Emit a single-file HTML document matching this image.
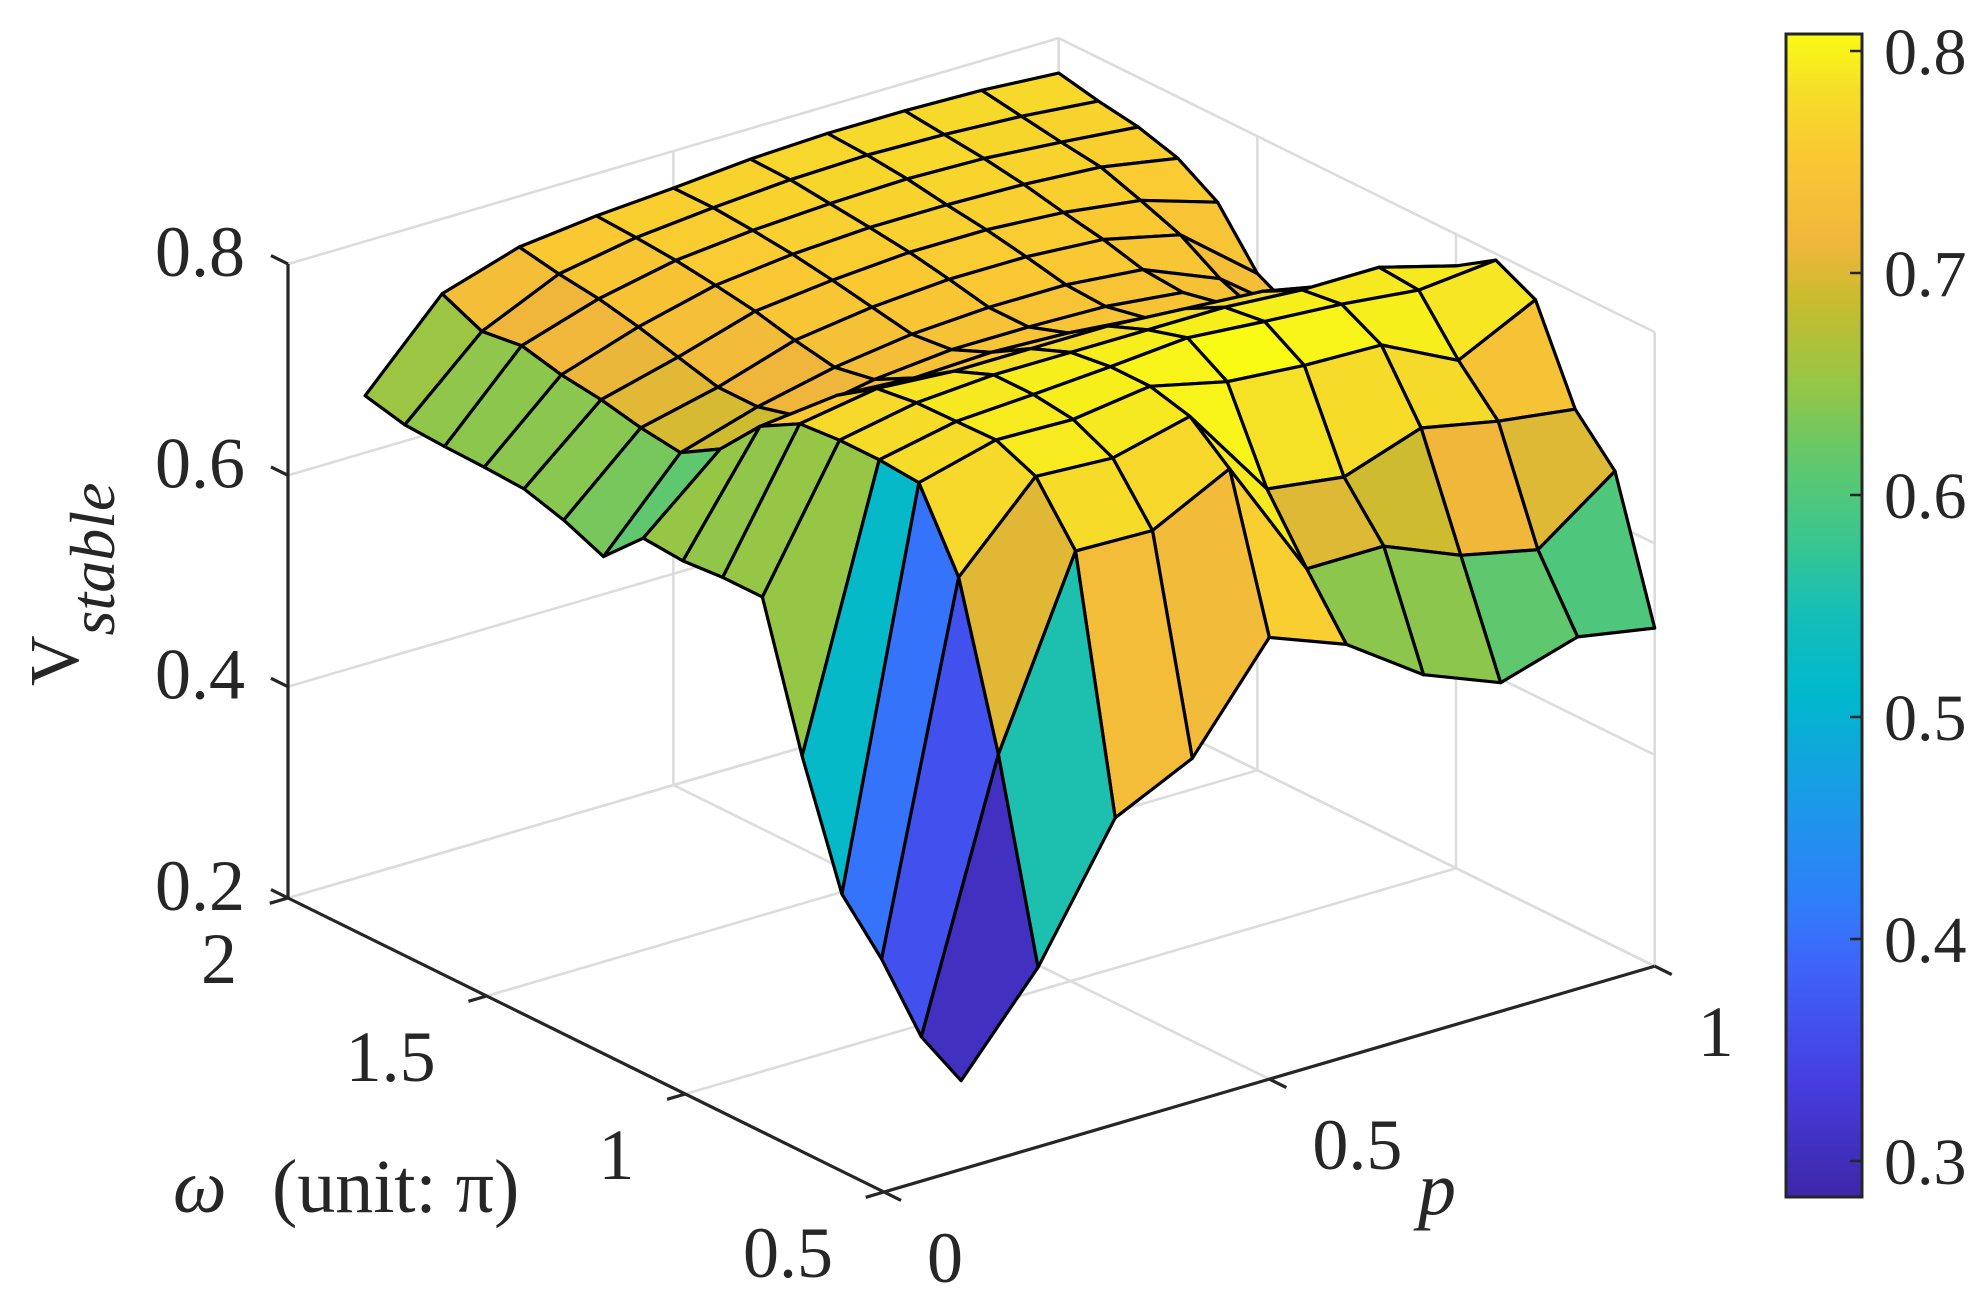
<!DOCTYPE html>
<html><head><meta charset="utf-8"><style>
html,body{margin:0;padding:0;background:#fff}
svg, svg text{font-family:"Liberation Serif","DejaVu Serif",serif}
</style></head><body>
<svg id="chart" width="1988" height="1306" viewBox="0 0 1988 1306" xmlns="http://www.w3.org/2000/svg" font-family="Liberation Serif, DejaVu Serif, serif">
<rect width="1988" height="1306" fill="#fff"/>
<g id="grid"></g>
<g id="axes"></g>
<g id="surface"></g>
<g id="labels"></g>
<g id="colorbar"></g>
<text transform="translate(78,686) rotate(-90)" font-family="Liberation Serif, serif" font-size="70" fill="#262626">V<tspan font-style="italic" font-size="64" dy="36">stable</tspan></text>
<text x="173" y="1212" font-family="Liberation Serif, serif" font-size="76" fill="#262626"><tspan font-style="italic">ω</tspan><tspan x="272">(unit: π)</tspan></text>
<text x="1418" y="1214" font-family="Liberation Serif, serif" font-size="76" font-style="italic" fill="#262626">p</text>
</svg>
<script>
const pValues=[0.1,0.2,0.3,0.4,0.5,0.6,0.7,0.8,0.9,1.0];
const omegaValues=[0.5,0.6,0.7,0.8,0.9,1.0,1.1,1.2,1.3,1.4,1.5,1.6,1.7,1.8,1.9,2.0];
const vStable=[
[0.284,0.370,0.490,0.525,0.618,0.590,0.540,0.511,0.533,0.520],
[0.307,0.553,0.724,0.722,0.759,0.643,0.643,0.613,0.597,0.650],
[0.362,0.702,0.776,0.772,0.790,0.700,0.690,0.715,0.700,0.690],
[0.405,0.773,0.792,0.790,0.800,0.783,0.777,0.775,0.739,0.775],
[0.517,0.776,0.791,0.795,0.800,0.806,0.800,0.795,0.787,0.794],
[0.649,0.776,0.790,0.795,0.795,0.795,0.795,0.790,0.790,0.770],
[0.649,0.773,0.785,0.780,0.780,0.780,0.775,0.770,0.755,0.724],
[0.646,0.752,0.760,0.755,0.758,0.755,0.748,0.740,0.715,0.650],
[0.649,0.712,0.722,0.735,0.742,0.742,0.740,0.732,0.690,0.625],
[0.613,0.690,0.712,0.728,0.738,0.742,0.742,0.735,0.705,0.650],
[0.629,0.695,0.712,0.735,0.745,0.750,0.750,0.745,0.728,0.670],
[0.640,0.703,0.722,0.744,0.752,0.757,0.757,0.752,0.742,0.719],
[0.642,0.708,0.732,0.750,0.758,0.762,0.762,0.760,0.755,0.742],
[0.643,0.717,0.740,0.755,0.762,0.766,0.768,0.766,0.760,0.753],
[0.645,0.712,0.745,0.758,0.765,0.770,0.772,0.770,0.766,0.759],
[0.654,0.729,0.752,0.760,0.765,0.771,0.774,0.774,0.772,0.767]
];
const zTicks=[0.2,0.4,0.6,0.8];
const zTickLabels=['0.2','0.4','0.6','0.8'];
const omegaTicks=[0.5,1,1.5,2];
const omegaTickLabels=['0.5','1','1.5','2'];
const pTicks=[0,0.5,1];
const pTickLabels=['0','0.5','1'];
const cbTicks=[0.3,0.4,0.5,0.6,0.7,0.8];
const cbTickLabels=['0.3','0.4','0.5','0.6','0.7','0.8'];

const NS='http://www.w3.org/2000/svg';
const F={x:884,y:1192}, dP={x:770.7,y:-225.8}, dW={x:-596,y:-294}, zPx=1056.7;
function proj(p,w,z){const a=p,b=(w-0.5)/1.5;return [F.x+a*dP.x+b*dW.x, F.y+a*dP.y+b*dW.y-(z-0.2)*zPx];}
function depth(p,w,z){const b=(w-0.5)/1.5,zn=(z-0.2)/0.6;return 0.924*(591*p+770*b)-0.383*686*zn;}
const stops=[[0,62,38,168],[0.1,70,62,225],[0.2,62,100,250],[0.25,48,125,250],[0.33,30,150,235],[0.43,0,184,205],[0.5,20,190,185],[0.56,55,198,145],[0.63,95,200,110],[0.7,150,198,70],[0.77,200,188,45],[0.82,240,182,60],[0.9,250,202,50],[0.95,245,222,40],[1,249,251,20]];
function cmap(t){t=Math.max(0,Math.min(1,t));for(let k=1;k<stops.length;k++){if(t<=stops[k][0]){const a=stops[k-1],b=stops[k],f=(t-a[0])/(b[0]-a[0]);return 'rgb('+[1,2,3].map(c=>Math.round(a[c]+f*(b[c]-a[c]))).join(',')+')';}}return 'rgb(249,251,20)';}
let vmin=Infinity,vmax=-Infinity;vStable.forEach(r=>r.forEach(v=>{vmin=Math.min(vmin,v);vmax=Math.max(vmax,v);}));
function line(g,a,b,stroke,w,name){const l=document.createElementNS(NS,'line');l.setAttribute('x1',a[0]);l.setAttribute('y1',a[1]);l.setAttribute('x2',b[0]);l.setAttribute('y2',b[1]);l.setAttribute('stroke',stroke);l.setAttribute('stroke-width',w);


g.appendChild(l);}
function text(g,x,y,s,anchor,size,name){const t=document.createElementNS(NS,'text');t.setAttribute('x',x);t.setAttribute('y',y);t.setAttribute('text-anchor',anchor);t.setAttribute('font-size',size);t.setAttribute('font-family','Liberation Serif, serif');t.setAttribute('fill','#262626');t.textContent=s;


g.appendChild(t);}
const grid=document.getElementById('grid'),axes=document.getElementById('axes'),surf=document.getElementById('surface'),labels=document.getElementById('labels'),cb=document.getElementById('colorbar');
const GC='#dcdcdc',GW=2.6;
pTicks.forEach(p=>line(grid,proj(p,0.5,0.2),proj(p,2,0.2),GC,GW,'floor-gridline-p'));
omegaTicks.forEach(w=>line(grid,proj(0,w,0.2),proj(1,w,0.2),GC,GW,'floor-gridline-omega'));
pTicks.forEach(p=>line(grid,proj(p,2,0.2),proj(p,2,0.8),GC,GW,'back-wall-gridline'));
zTicks.forEach(z=>line(grid,proj(0,2,z),proj(1,2,z),GC,GW,'back-wall-gridline-z'));
omegaTicks.forEach(w=>line(grid,proj(1,w,0.2),proj(1,w,0.8),GC,GW,'side-wall-gridline'));
zTicks.forEach(z=>line(grid,proj(1,0.5,z),proj(1,2,z),GC,GW,'side-wall-gridline-z'));
const AC='#262626',AW=3.2;
line(axes,proj(0,2,0.2),proj(0,2,0.8),AC,AW,'z-axis');
line(axes,proj(0,0.5,0.2),proj(0,2,0.2),AC,AW,'omega-axis');
line(axes,proj(0,0.5,0.2),proj(1,0.5,0.2),AC,AW,'p-axis');
const tl=19;
const uW=[dW.x/Math.hypot(dW.x,dW.y),dW.y/Math.hypot(dW.x,dW.y)], uP=[dP.x/Math.hypot(dP.x,dP.y),dP.y/Math.hypot(dP.x,dP.y)];
zTicks.forEach((z,i)=>{const a=proj(0,2,z);line(axes,a,[a[0]+uW[0]*tl,a[1]+uW[1]*tl],AC,AW,'z-tick');text(labels,245,a[1]+12,zTickLabels[i],'end',72,'z-tick-label');});
omegaTicks.forEach((w,i)=>{const a=proj(0,w,0.2);line(axes,a,[a[0]-uP[0]*tl,a[1]-uP[1]*tl],AC,AW,'omega-tick');text(labels,a[0]-51,a[1]+85,omegaTickLabels[i],'end',72,'omega-tick-label');});
pTicks.forEach((p,i)=>{const a=proj(p,0.5,0.2);line(axes,a,[a[0]-uW[0]*tl,a[1]-uW[1]*tl],AC,AW,'p-tick');text(labels,a[0]+43,a[1]+90,pTickLabels[i],'start',72,'p-tick-label');});
const faces=[];
for(let j=0;j<omegaValues.length-1;j++){for(let i=0;i<pValues.length-1;i++){
 const c=[[i,j],[i+1,j],[i+1,j+1],[i,j+1]];
 let d=0;const pts=c.map(([a,b])=>{d+=depth(pValues[a],omegaValues[b],vStable[b][a]);return proj(pValues[a],omegaValues[b],vStable[b][a]);});
 faces.push({pts,d:d/4,v:vStable[j+1][i]});
}}
faces.sort((a,b)=>b.d-a.d);
faces.forEach(f=>{const pg=document.createElementNS(NS,'polygon');pg.setAttribute('points',f.pts.map(p=>p[0].toFixed(1)+','+p[1].toFixed(1)).join(' '));
pg.setAttribute('fill',cmap((f.v-vmin)/(vmax-vmin)));pg.setAttribute('stroke','#000');pg.setAttribute('stroke-width','3.2');pg.setAttribute('stroke-linejoin','round');


surf.appendChild(pg);});
const cbX=1786,cbW=76,cbTop=34,cbBot=1197;
function cbY(v){return 1161-(v-0.3)*2220;}
const defs=document.createElementNS(NS,'defs');const lg=document.createElementNS(NS,'linearGradient');lg.setAttribute('id','cbg');lg.setAttribute('x1','0');lg.setAttribute('y1','1');lg.setAttribute('x2','0');lg.setAttribute('y2','0');
stops.forEach(s=>{const st=document.createElementNS(NS,'stop');st.setAttribute('offset',s[0]);st.setAttribute('stop-color','rgb('+s[1]+','+s[2]+','+s[3]+')');lg.appendChild(st);});
defs.appendChild(lg);document.getElementById('chart').insertBefore(defs,document.getElementById('chart').firstChild);
const r=document.createElementNS(NS,'rect');r.setAttribute('x',cbX);r.setAttribute('y',cbTop);r.setAttribute('width',cbW);r.setAttribute('height',cbBot-cbTop);r.setAttribute('fill','url(#cbg)');


cb.appendChild(r);
const rb=document.createElementNS(NS,'rect');rb.setAttribute('x',cbX);rb.setAttribute('y',cbTop);rb.setAttribute('width',cbW);rb.setAttribute('height',cbBot-cbTop);rb.setAttribute('fill','none');rb.setAttribute('stroke','#262626');rb.setAttribute('stroke-width','3');


cb.appendChild(rb);
cbTicks.forEach((v,i)=>{const y=cbY(v);line(cb,[cbX+cbW-12,y],[cbX+cbW,y],'#262626',2.5,'colorbar-tick');text(cb,1884,y+23,cbTickLabels[i],'start',66,'colorbar-tick-label');});
</script>
</body></html>
